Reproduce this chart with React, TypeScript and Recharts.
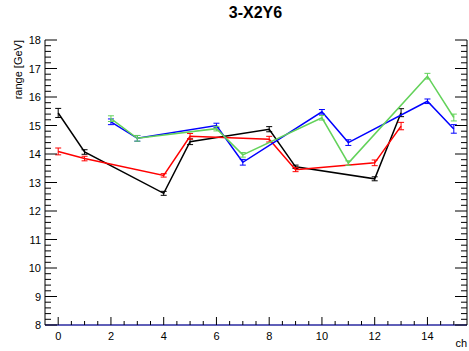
import { LineChart, Line, XAxis, YAxis, ErrorBar } from "recharts"

const blackCh = [0, 1, 4, 5, 8, 9, 12, 13]
const blackVal = [15.44, 14.07, 12.62, 14.43, 14.87, 13.55, 13.13, 15.45]
const blackErr = [0.16, 0.08, 0.07, 0.1, 0.09, 0.06, 0.07, 0.14]

const redCh = [0, 1, 4, 5, 8, 9, 12, 13]
const redVal = [14.09, 13.84, 13.25, 14.62, 14.52, 13.45, 13.69, 14.98]
const redErr = [0.12, 0.08, 0.06, 0.1, 0.1, 0.07, 0.1, 0.13]

const blueCh = [2, 3, 6, 7, 10, 11, 14, 15]
const blueVal = [15.13, 14.55, 15.0, 13.71, 15.48, 14.4, 15.85, 14.88]
const blueErr = [0.1, 0.1, 0.08, 0.1, 0.08, 0.1, 0.08, 0.15]

const greenCh = [2, 3, 6, 7, 10, 11, 14, 15]
const greenVal = [15.24, 14.55, 14.89, 13.97, 15.27, 13.68, 16.73, 15.28]
const greenErr = [0.1, 0.1, 0.08, 0.08, 0.08, 0.08, 0.1, 0.12]

// axis ticks: x every 0.5 (labels on even numbers), y every 0.2 (labels on integers)
const xTicks = Array.from({ length: 31 }, (_, i) => i * 0.5)
const yTicks = Array.from({ length: 51 }, (_, i) => Math.round((8 + i * 0.2) * 10) / 10)

const rows = (ch: number[], val: number[], err: number[]) =>
  ch.map((c, i) => ({ ch: c, v: val[i], err: err[i] }))

const isMult = (v: number, m: number) => Math.abs(v / m - Math.round(v / m)) < 1e-6

const BottomTick = (props: any) => {
  const { x, y, payload } = props
  const major = isMult(payload.value, 2)
  return (
    <g>
      <line x1={x} x2={x} y1={y} y2={y - (major ? 8 : 4)} stroke="#000" />
      {major && (
        <text x={x} y={y + 15} textAnchor="middle" fontSize={11} fill="#000">
          {payload.value}
        </text>
      )}
    </g>
  )
}

const TopTick = (props: any) => {
  const { x, y, payload } = props
  const major = isMult(payload.value, 2)
  return <line x1={x} x2={x} y1={y} y2={y + (major ? 8 : 4)} stroke="#000" />
}

const LeftTick = (props: any) => {
  const { x, y, payload } = props
  const major = isMult(payload.value, 1)
  return (
    <g>
      <line x1={x} x2={x + (major ? 12 : 6)} y1={y} y2={y} stroke="#000" />
      {major && (
        <text x={x - 4} y={y + 4} textAnchor="end" fontSize={11} fill="#000">
          {Math.round(payload.value)}
        </text>
      )}
    </g>
  )
}

const RightTick = (props: any) => {
  const { x, y, payload } = props
  const major = isMult(payload.value, 1)
  return <line x1={x} x2={x - (major ? 12 : 6)} y1={y} y2={y} stroke="#000" />
}

const series = [
  { name: "black", color: "#000000", data: rows(blackCh, blackVal, blackErr) },
  { name: "red", color: "#ff0000", data: rows(redCh, redVal, redErr) },
  { name: "blue", color: "#0000ff", data: rows(blueCh, blueVal, blueErr) },
  { name: "green", color: "#63d25a", data: rows(greenCh, greenVal, greenErr) },
]

export default function App() {
  return (
    <div style={{
      position: "absolute", left: 0, top: 0, width: 469, height: 351,
      background: "#fff", fontFamily: "'Liberation Sans', Arial, sans-serif"
    }}>
      <div style={{
        position: "absolute", left: 0, width: 469, top: 4, textAlign: "center",
        paddingLeft: 42, boxSizing: "border-box",
        fontSize: 16, fontWeight: 700, color: "#000"
      }}>
        3-X2Y6
      </div>
      <div style={{
        position: "absolute", left: 12, top: 40, fontSize: 11, color: "#000",
        whiteSpace: "nowrap", transform: "translateX(-50%) rotate(-90deg) translateX(-50%)",
        transformOrigin: "50% 0"
      }}>
        range [GeV]
      </div>
      <div style={{ position: "absolute", right: 2, top: 337, fontSize: 11, color: "#000" }}>
        ch
      </div>

      <LineChart width={469} height={351} margin={{ top: 40, right: 0, left: 0, bottom: 0 }}>
        <XAxis
          xAxisId="b" dataKey="ch" type="number" domain={[-0.5, 15.5]} allowDataOverflow
          ticks={xTicks} interval={0} tickSize={0} tickMargin={0} tickLine={false}
          tick={<BottomTick />} height={26} axisLine={{ stroke: "#2a2aa0", strokeWidth: 1.5 }}
        />
        <XAxis
          xAxisId="t" orientation="top" dataKey="ch" type="number" domain={[-0.5, 15.5]} allowDataOverflow
          ticks={xTicks} interval={0} tickSize={0} tickMargin={0} tickLine={false}
          tick={<TopTick />} height={0} axisLine={{ stroke: "#000" }}
        />
        <YAxis
          yAxisId="l" type="number" domain={[8, 18]} allowDataOverflow
          ticks={yTicks} interval={0} tickSize={0} tickMargin={0} tickLine={false}
          tick={<LeftTick />} width={45} axisLine={{ stroke: "#000" }}
        />
        <YAxis
          yAxisId="r" orientation="right" type="number" domain={[8, 18]} allowDataOverflow
          ticks={yTicks} interval={0} tickSize={0} tickMargin={0} tickLine={false}
          tick={<RightTick />} width={2} axisLine={{ stroke: "#000" }}
        />
        {series.map((s) => (
          <Line
            key={s.name}
            xAxisId="b"
            yAxisId="l"
            data={s.data}
            dataKey="v"
            type="linear"
            stroke={s.color}
            strokeWidth={1.5}
            dot={false}
            isAnimationActive={false}
          >
            <ErrorBar dataKey="err" direction="y" width={3} stroke={s.color} strokeWidth={1} />
          </Line>
        ))}
      </LineChart>
    </div>
  )
}
